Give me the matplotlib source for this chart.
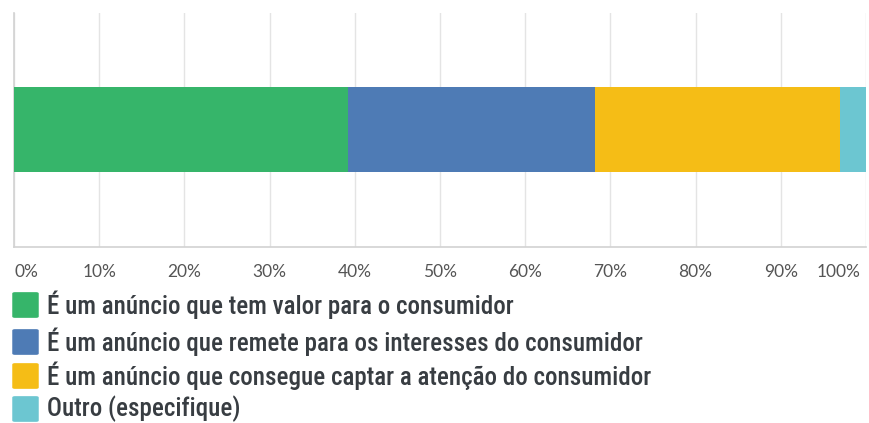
import matplotlib
matplotlib.use("Agg")
import matplotlib.pyplot as plt
from matplotlib.patches import FancyBboxPatch

# Survey answer shares (percent of respondents)
answers = [
    "É um anúncio que tem valor para o consumidor",
    "É um anúncio que remete para os interesses do consumidor",
    "É um anúncio que consegue captar a atenção do consumidor",
    "Outro (especifique)",
]
shares = [39.2, 29.0, 28.7, 3.1]
colors = ["#36b56a", "#4e7bb5", "#f5bd16", "#6cc6d1"]
tick_values = list(range(0, 101, 10))
tick_labels = [f"{v}%" for v in tick_values]

W, H = 869, 423
fig = plt.figure(figsize=(W / 100, H / 100), dpi=100)
fig.patch.set_facecolor("white")

# axes placed in pixel units
left, right, top, bottom = 14, 866, 13, 247
ax = fig.add_axes([left / W, 1 - bottom / H, (right - left) / W, (bottom - top) / H])

bar_h = 85 / (bottom - top)
start = 0
for val, col in zip(shares, colors):
    ax.barh(0.5, val, left=start, height=bar_h, color=col, zorder=3)
    start += val

ax.set_xlim(0, 100)
ax.set_ylim(0, 1)
ax.set_yticks([])
ax.set_xticks(tick_values)
ax.set_xticklabels([])
ax.tick_params(axis="x", length=0)
ax.grid(axis="x", color="#e4e4e4", linewidth=1, zorder=0)
for side in ["top", "right"]:
    ax.spines[side].set_visible(False)
for side in ["left", "bottom"]:
    ax.spines[side].set_color("#d2d2d2")
    ax.spines[side].set_linewidth(1.2)

# percentage labels under the axis, edge labels pulled inward
for v, lab in zip(tick_values, tick_labels):
    x = left + (right - left) * v / 100
    ha = "center"
    if v == 0:
        x, ha = 15, "left"
    elif v == 100:
        x, ha = 861, "right"
    fig.text(x / W, 1 - 272 / H, lab, ha=ha, va="center",
             fontsize=12.5, color="#555555", family=["Lato", "DejaVu Sans"])

# legend: rounded swatches with labels
row_y = [305, 342, 376, 409]
for y, lab, col in zip(row_y, answers, colors):
    sw = FancyBboxPatch((14 / W, 1 - (y + 12) / H), 23 / W, 24 / H,
                        boxstyle="round,pad=0.002,rounding_size=0.003",
                        transform=fig.transFigure, facecolor=col, edgecolor="none")
    fig.patches.append(sw)
    fig.text(47 / W, 1 - y / H, lab, ha="left", va="center", fontsize=18,
             color="#383d42", weight="medium",
             family=["Roboto Condensed", "Roboto", "DejaVu Sans"])

fig.savefig("out.png", dpi=100, facecolor="white")
